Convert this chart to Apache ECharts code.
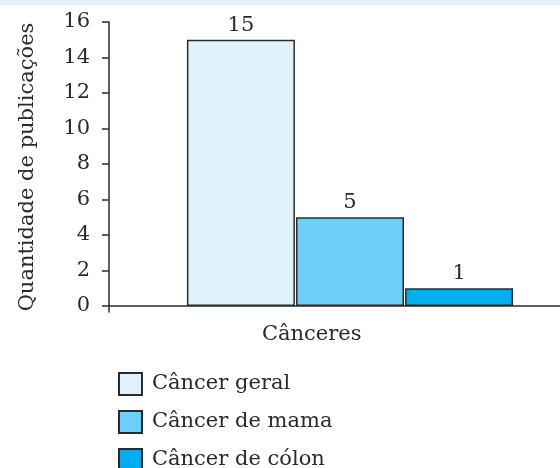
<!DOCTYPE html>
<html>
<head>
<meta charset="utf-8">
<script src="https://cdn.jsdelivr.net/npm/echarts@6/dist/echarts.min.js"></script>
<style>
  html, body { margin: 0; padding: 0; background: #fff; }
  #chart { width: 560px; height: 468px; }
</style>
</head>
<body>
<div id="chart"></div>
<script>
const categories = ["Cânceres"];
const seriesNames = ["Câncer geral", "Câncer de mama", "Câncer de cólon"];
const geral = [15];
const mama = [5];
const colon = [1];
const yTicks = [0, 2, 4, 6, 8, 10, 12, 14, 16];

const colors = ["#dff2fa", "#6dcff6", "#00aeef"];
const font = "DejaVu Serif";
const ink = "#2b2b2b";
// y axis runs a hair below zero so its line pokes out under the x axis
const yMin = -0.34;
const yMax = 16;

let chart = echarts.init(document.getElementById("chart"));

function barSeries(name, data, color) {
  return {
    name: name,
    type: "bar",
    xAxisIndex: 1,
    yAxisIndex: 1,
    data: data,
    barWidth: 108,
    barGap: "1%",
    itemStyle: { color: color, borderColor: ink, borderWidth: 1.5 },
    label: {
      show: true,
      position: "top",
      distance: 4,
      fontFamily: font,
      fontSize: 21,
      color: ink,
    },
  };
}

// one legend per row so they stack even when the last row runs off the page
var legends = seriesNames.map(function (n, i) {
  return {
    orient: "vertical",
    left: 118,
    top: 372 + i * 38,
    padding: 0,
    itemWidth: 23,
    itemHeight: 22,
    icon: "rect",
    data: [n],
    textStyle: { fontFamily: font, fontSize: 21, color: ink, padding: [0, 0, 0, 5] },
  };
});

var option = {
  animation: false,
  grid: [
    { left: 109, right: 0, top: 22, bottom: 156 },
    { left: 140, right: 0, top: 22, bottom: 156 },
  ],
  graphic: [
    {
      type: "rect",
      shape: { x: 0, y: 0, width: 560, height: 5 },
      style: { fill: "#e0f2f9" },
    },
    {
      type: "text",
      left: 262,
      top: 324,
      style: { text: categories[0], font: "21px '" + font + "'", fill: ink },
    },
  ],
  legend: legends,
  xAxis: [
    {
      type: "category",
      gridIndex: 0,
      data: categories,
      axisLine: { onZero: true, lineStyle: { color: ink, width: 1.5 } },
      axisTick: { show: false },
      axisLabel: { show: false },
    },
    {
      type: "category",
      gridIndex: 1,
      data: categories,
      show: false,
    },
  ],
  yAxis: [
    {
      type: "value",
      gridIndex: 0,
      min: yMin,
      max: yMax,
      name: "Quantidade de publicações",
      nameLocation: "middle",
      nameGap: 71,
      nameTextStyle: { fontFamily: font, fontSize: 21, color: ink },
      axisLine: { show: true, lineStyle: { color: ink, width: 1.5 } },
      axisTick: {
        show: true,
        length: 7,
        customValues: yTicks,
        lineStyle: { color: ink, width: 1.5 },
      },
      axisLabel: {
        margin: 19,
        customValues: yTicks,
        fontFamily: font,
        fontSize: 21,
        color: ink,
      },
      splitLine: { show: false },
    },
    {
      type: "value",
      gridIndex: 1,
      min: yMin,
      max: yMax,
      show: false,
      splitLine: { show: false },
    },
  ],
  series: [
    barSeries(seriesNames[0], geral, colors[0]),
    barSeries(seriesNames[1], mama, colors[1]),
    barSeries(seriesNames[2], colon, colors[2]),
  ],
};

chart.setOption(option);
</script>
</body>
</html>
